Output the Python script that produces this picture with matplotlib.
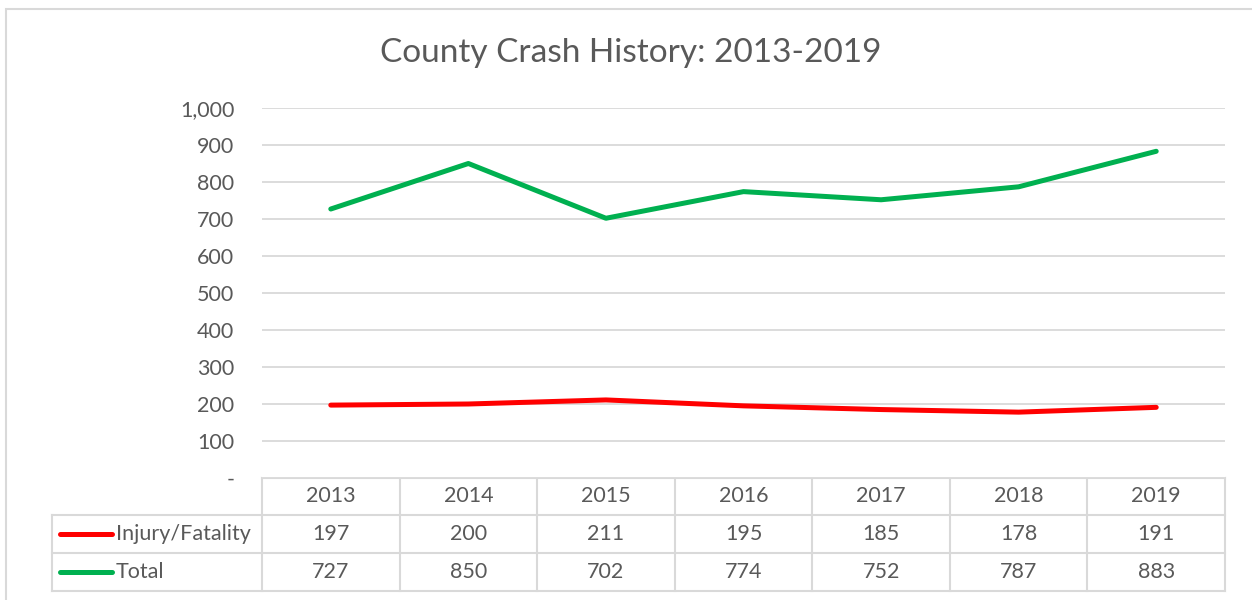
import matplotlib
matplotlib.use("Agg")
import matplotlib.pyplot as plt
from matplotlib.patches import Rectangle
from matplotlib.ticker import FuncFormatter

years = ["2013", "2014", "2015", "2016", "2017", "2018", "2019"]
injury = [197, 200, 211, 195, 185, 178, 191]
total = [727, 850, 702, 774, 752, 787, 883]
series_names = ["Injury/Fatality", "Total"]
series_colors = ["#ff0000", "#00b050"]
title = "County Crash History: 2013-2019"

plt.rcParams['font.family'] = ['Lato', 'DejaVu Sans']
W, H = 1252, 600
fig = plt.figure(figsize=(W / 100, H / 100), dpi=100)
txt_color = "#595959"
grid_color = "#d9d9d9"

def fx(px):
    return px / W

def fy(py):
    return 1 - py / H

# outer chart border
fig.patches.append(Rectangle((fx(6), fy(640)), fx(1300), (640 - 9) / H,
                             transform=fig.transFigure, fill=False,
                             edgecolor=grid_color, linewidth=1.5))

# plot area
L, R, T, B = 262, 1225, 108, 478
ax = fig.add_axes([fx(L), fy(B), fx(R - L), (B - T) / H])
x = list(range(len(years)))
ax.plot(x, injury, color=series_colors[0], linewidth=3.6, solid_capstyle='round')
ax.plot(x, total, color=series_colors[1], linewidth=3.6, solid_capstyle='round')
ax.set_xlim(-0.5, len(years) - 0.5)
ax.set_ylim(0, 1000)
ax.set_yticks(range(0, 1001, 100))
ax.yaxis.set_major_formatter(FuncFormatter(lambda v, p: "-" if v == 0 else f"{int(v):,}"))
ax.tick_params(axis='y', length=0, labelsize=15.5, labelcolor=txt_color, pad=20)
ax.set_xticks([])
for s in ax.spines.values():
    s.set_visible(False)
ax.grid(axis='y', color=grid_color, linewidth=1.3)
ax.set_axisbelow(True)

fig.text(fx(631), fy(53), title, ha='center', va='center', fontsize=24, color=txt_color)

# data table
tab = fig.add_axes([0, 0, 1, 1], zorder=-1)
tab.set_xlim(0, W)
tab.set_ylim(H, 0)
tab.axis('off')
row_y = [478, 515, 553, 591]
col_w = (R - L) / len(years)
col_x = [L + i * col_w for i in range(len(years) + 1)]
lc = dict(color=grid_color, linewidth=1.5)
tab.plot([L, R], [row_y[0], row_y[0]], **lc)
for yy in row_y[1:]:
    tab.plot([52, R], [yy, yy], **lc)
for xx in col_x:
    tab.plot([xx, xx], [row_y[0], row_y[3]], **lc)
tab.plot([52, 52], [row_y[1], row_y[3]], **lc)

fs = 15.5
for i, yr in enumerate(years):
    cx = col_x[i] + col_w / 2
    tab.text(cx, (row_y[0] + row_y[1]) / 2, yr, ha='center', va='center', fontsize=fs, color=txt_color)
    for r, vals in enumerate([injury, total]):
        tab.text(cx, (row_y[r + 1] + row_y[r + 2]) / 2, str(vals[i]), ha='center', va='center',
                 fontsize=fs, color=txt_color)

for r, (name, col) in enumerate(zip(series_names, series_colors)):
    cy = (row_y[r + 1] + row_y[r + 2]) / 2
    tab.plot([60, 112], [cy, cy], color=col, linewidth=3.6, solid_capstyle='round')
    tab.text(116, cy, name, ha='left', va='center', fontsize=fs, color=txt_color)

fig.savefig("out.png", dpi=100)
